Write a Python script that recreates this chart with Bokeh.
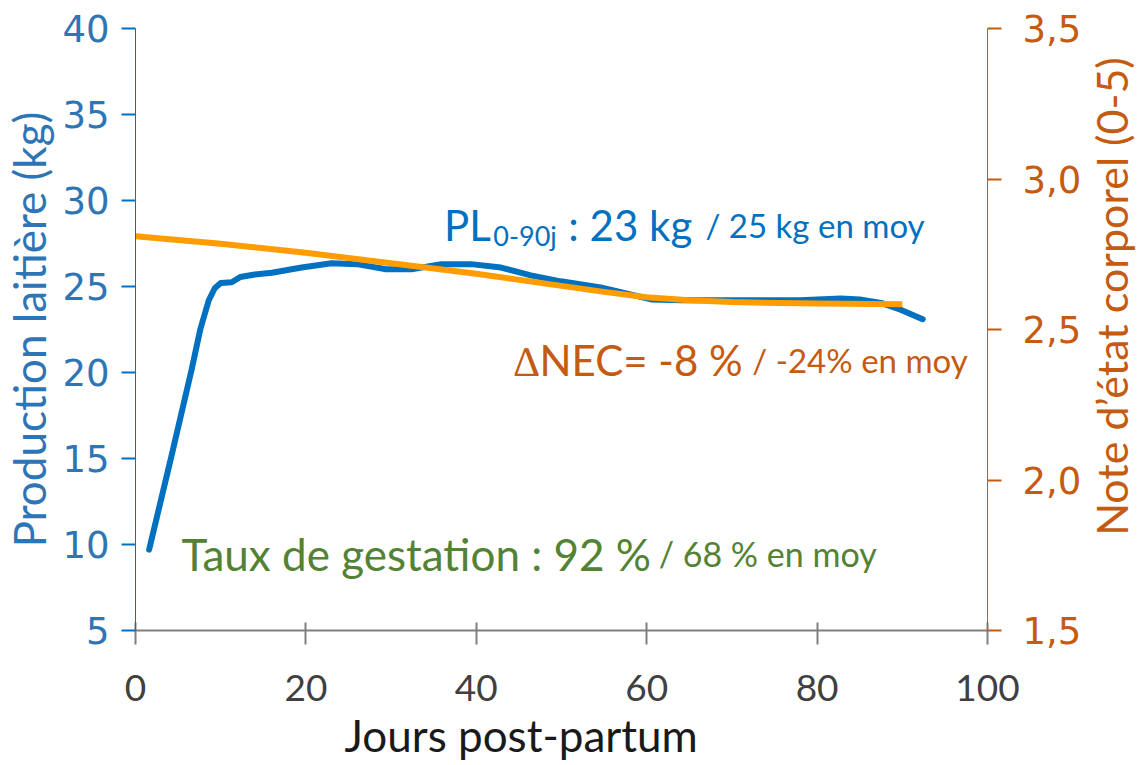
import math
from bokeh.plotting import figure
from bokeh.layouts import row
from bokeh.models import Range1d, LinearAxis, FixedTicker, Label, Title
from bokeh.embed import file_html
from bokeh.resources import INLINE

# ---- data ----
milk_days = [1.6, 4.2, 6.6, 7.6, 8.6, 9.3, 10.0, 11.3, 12.3, 14.0, 16.0, 19.5, 23.0, 26.0,
             29.4, 32.4, 35.9, 39.4, 42.9, 46.4, 49.9, 54.6, 57.6, 60.5, 64.0, 68.7, 73.4,
             78.0, 82.8, 85.0, 87.5, 89.8, 92.4]
milk_kg = [9.7, 15.1, 20.2, 22.5, 24.2, 24.9, 25.2, 25.25, 25.55, 25.7, 25.8, 26.1, 26.35,
           26.3, 26.0, 26.0, 26.3, 26.3, 26.1, 25.65, 25.3, 24.95, 24.6, 24.25, 24.2, 24.2,
           24.2, 24.2, 24.3, 24.25, 24.05, 23.65, 23.1]
nec_days = [0, 10, 20, 30, 40, 50, 55, 60, 65, 70, 80, 90]
nec_values = [2.81, 2.785, 2.755, 2.72, 2.685, 2.645, 2.625, 2.607, 2.597, 2.591, 2.586, 2.584]

x_ticks = [0, 20, 40, 60, 80, 100]
left_ticks = [5, 10, 15, 20, 25, 30, 35, 40]
right_ticks = [1.5, 2.0, 2.5, 3.0, 3.5]
right_tick_labels = ["1,5", "2,0", "2,5", "3,0", "3,5"]

BLUE = "#0070C0"
BLUE_TXT = "#2E75B6"
ORANGE = "#FF9C00"
ORANGE_TXT = "#C55A11"
GREEN = "#548235"
FONT = "Lato"
TICKFONT = "DejaVu Sans"

p = figure(frame_width=852, frame_height=602,
           min_border_left=135, min_border_right=98, min_border_top=28, min_border_bottom=130,
           x_range=Range1d(0, 100), y_range=Range1d(5, 40),
           output_backend="svg", toolbar_location=None,
           x_axis_location=None, y_axis_location=None)
p.outline_line_color = None
p.xgrid.visible = False
p.ygrid.visible = False
p.background_fill_color = "white"
p.border_fill_color = "white"
p.extra_y_ranges = {"nec": Range1d(1.5, 3.5)}

# bottom axis
xa = LinearAxis(ticker=FixedTicker(ticks=x_ticks))
xa.axis_line_color = "#808080"
xa.axis_line_width = 2
xa.major_tick_line_color = "#808080"
xa.major_tick_line_width = 2
xa.major_tick_in = 8
xa.major_tick_out = 14
xa.minor_tick_line_color = None
xa.major_label_text_font = FONT
xa.major_label_text_font_size = "37px"
xa.major_label_text_color = "#404040"
xa.major_label_standoff = 30
p.add_layout(xa, "below")

# left axis
ya = LinearAxis(ticker=FixedTicker(ticks=left_ticks))
ya.axis_line_color = BLUE
ya.axis_line_width = 1
ya.major_tick_line_color = BLUE
ya.major_tick_line_width = 2
ya.major_tick_in = 0
ya.major_tick_out = 14
ya.minor_tick_line_color = None
ya.major_label_text_font = TICKFONT
ya.major_label_text_font_size = "37px"
ya.major_label_text_color = BLUE_TXT
ya.major_label_standoff = 12
ya.axis_label = "Production laitière (kg)"
ya.axis_label_text_font = FONT
ya.axis_label_text_font_size = "44px"
ya.axis_label_text_font_style = "normal"
ya.axis_label_text_color = BLUE_TXT
ya.axis_label_standoff = 4
p.add_layout(ya, "left")

# right axis (its title is drawn in a side panel below)
ra = LinearAxis(y_range_name="nec", ticker=FixedTicker(ticks=right_ticks))
ra.major_label_overrides = dict(zip(right_ticks, right_tick_labels))
ra.axis_line_color = ORANGE_TXT
ra.axis_line_width = 1
ra.major_tick_line_color = ORANGE_TXT
ra.major_tick_line_width = 2
ra.major_tick_in = 0
ra.major_tick_out = 14
ra.minor_tick_line_color = None
ra.major_label_text_font = TICKFONT
ra.major_label_text_font_size = "37px"
ra.major_label_text_color = ORANGE_TXT
ra.major_label_standoff = 21
p.add_layout(ra, "right")

# x axis title
xt = Title(text="Jours post-partum", align="left", offset=209, standoff=6,
           text_font=FONT, text_font_size="44px", text_font_style="normal",
           text_color="#1a1a1a")
p.add_layout(xt, "below")

# lines
p.line(milk_days, milk_kg, line_color=BLUE, line_width=6, line_join="round", line_cap="round")
p.line(nec_days, nec_values, y_range_name="nec", line_color=ORANGE, line_width=6,
       line_join="round")

def lab(x, y, text, color, size):
    p.add_layout(Label(x=x, y=y, text=text, text_color=color, text_font=FONT,
                       text_font_size=size, text_align="left", text_baseline="alphabetic"))

lab(36.2, 28.6, "PL", BLUE, "42px")
lab(42.0, 27.95, "0-90j", BLUE, "27px")
lab(50.8, 28.6, ": 23 kg", BLUE, "42px")
lab(66.9, 28.6, "/ 25 kg en moy", BLUE, "33px")

lab(44.4, 20.75, "\u2206NEC= -8 %", ORANGE_TXT, "42px")
lab(72.4, 20.75, "/ -24% en moy", ORANGE_TXT, "33px")

lab(5.4, 9.45, "Taux de gestation : 92 %", GREEN, "44px")
lab(61.4, 9.45, "/ 68 % en moy", GREEN, "34px")

# right-hand title panel (reads bottom to top)
side = figure(width=52, height=760, min_border=0, x_range=Range1d(0, 52),
              y_range=Range1d(0, 760), output_backend="svg", toolbar_location=None,
              x_axis_location=None, y_axis_location=None)
side.outline_line_color = None
side.xgrid.visible = False
side.ygrid.visible = False
side.background_fill_color = "white"
side.border_fill_color = "white"
side.add_layout(Label(x=26, y=420, text="Note d\u2019état corporel (0-5)", angle=math.pi / 2,
                      text_align="center", text_baseline="middle",
                      text_color=ORANGE_TXT, text_font=FONT, text_font_size="43px"))

layout = row(p, side, spacing=0)
open("out.html", "w").write(file_html(layout, INLINE))
